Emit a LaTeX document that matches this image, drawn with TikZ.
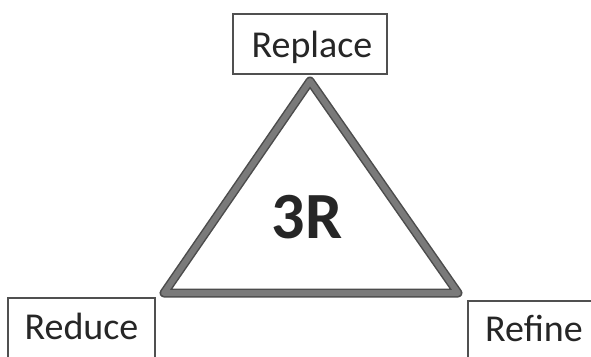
\documentclass[tikz,border=0pt]{standalone}
\usepackage{fontspec}
\setmainfont{Carlito}
\definecolor{boxline}{HTML}{505050}
\definecolor{triedge}{HTML}{4C4C4C}
\definecolor{trimid}{HTML}{7A7A7A}
\begin{document}
\begin{tikzpicture}[x=1pt,y=-1pt,
  box/.style={draw=boxline,line width=1.2pt,fill=white,inner sep=0pt,minimum width=#1},
  lbl/.style={anchor=base,inner sep=0pt,text=black!85,font=\fontsize{38}{40}\selectfont},
  big/.style={anchor=base,inner sep=0pt,text=black!85,font=\fontsize{66}{70}\selectfont\bfseries}]
\useasboundingbox (0,0) rectangle (591,356);
\fill[white] (0,0) rectangle (591,356);
\clip (0,0) rectangle (591,356);
% boxes
\node[box=154pt,minimum height=60pt] (replacebox) at (310,44) {};
\node[box=147pt,minimum height=68pt] (reducebox) at (81.5,332) {};
\node[box=132pt,minimum height=66pt] (refinebox) at (534,334) {};
% triangle corners
\coordinate (top) at (310,81);
\coordinate (bl) at (164,293);
\coordinate (br) at (458,293);
\draw[triedge,line width=9pt,line join=round] (top) -- (bl) -- (br) -- cycle;
\draw[trimid,line width=6pt,line join=round] (top) -- (bl) -- (br) -- cycle;
% labels
\node[lbl] (replace) at (312,57) {Replace};
\node[lbl] (reduce) at (81.5,339) {Reduce};
\node[lbl] (refine) at (534,341) {Refine};
\node[big] (threer) at (307,238) {3R};
\end{tikzpicture}
\end{document}
